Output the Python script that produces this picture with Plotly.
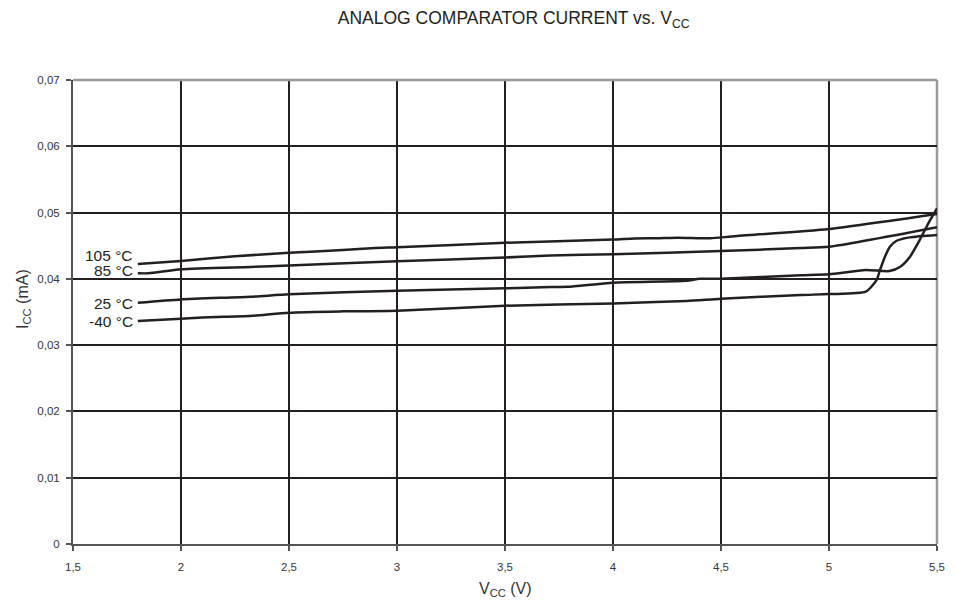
import plotly.graph_objects as go

# --- data ---
x_105 = [1.80, 2.00, 2.25, 2.50, 2.75, 2.90, 3.00, 3.50, 4.00, 4.10, 4.20, 4.30, 4.45, 4.55, 5.00, 5.50]
y_105 = [0.04224, 0.0427, 0.0434, 0.04394, 0.04435, 0.04465, 0.04476, 0.04545, 0.04593, 0.0461, 0.04612, 0.04622, 0.04612, 0.0464, 0.04752, 0.04978]

x_85 = [1.80, 1.85, 2.00, 2.32, 2.50, 3.00, 3.50, 3.71, 4.00, 4.50, 4.87, 5.00, 5.50]
y_85 = [0.04084, 0.04084, 0.04145, 0.0418, 0.04201, 0.04266, 0.04322, 0.04352, 0.04373, 0.04419, 0.04465, 0.04485, 0.04780]

x_25 = [1.80, 2.00, 2.32, 2.50, 3.00, 3.50, 3.71, 3.79, 4.00, 4.34, 4.40, 4.50, 4.87, 5.00, 5.17, 5.28, 5.33, 5.375, 5.42, 5.46, 5.50]
y_25 = [0.0364, 0.0369, 0.0373, 0.03766, 0.03822, 0.03857, 0.03877, 0.0388, 0.03942, 0.0397, 0.0400, 0.04003, 0.04053, 0.0407, 0.04133, 0.04118, 0.04183, 0.04334, 0.04586, 0.04838, 0.05064]

x_m40 = [1.80, 2.00, 2.20, 2.32, 2.50, 2.75, 3.00, 3.50, 4.00, 4.34, 4.50, 4.87, 5.00, 5.17, 5.22, 5.236, 5.259, 5.282, 5.313, 5.375, 5.50]
y_m40 = [0.03364, 0.0340, 0.0343, 0.0344, 0.0349, 0.0351, 0.0352, 0.03595, 0.0363, 0.03666, 0.0370, 0.03756, 0.0377, 0.03806, 0.0398, 0.04133, 0.04334, 0.04485, 0.04575, 0.04626, 0.04661]

series_names = ["105 °C", "85 °C", "25 °C", "-40 °C"]
series_x = [x_105, x_85, x_25, x_m40]
series_y = [y_105, y_85, y_25, y_m40]
label_shift = [9, 3, -1, 0]

x_ticks = [1.5, 2, 2.5, 3, 3.5, 4, 4.5, 5, 5.5]
x_tick_text = ["1,5", "2", "2,5", "3", "3,5", "4", "4,5", "5", "5,5"]
y_ticks = [0, 0.01, 0.02, 0.03, 0.04, 0.05, 0.06, 0.07]
y_tick_text = ["0", "0,01", "0,02", "0,03", "0,04", "0,05", "0,06", "0,07"]

x_title = "V<sub>CC</sub> (V)"
y_title = "I<sub>CC</sub> (mA)"
chart_title = "ANALOG COMPARATOR CURRENT vs. V<sub>CC</sub>"

LINE = "#231f20"
FONT = "Liberation Sans, Arial, sans-serif"

fig = go.Figure()
for name, xs, ys in zip(series_names, series_x, series_y):
    fig.add_trace(go.Scatter(x=xs, y=ys, mode="lines", name=name,
                             line=dict(color=LINE, width=2.5, shape="spline", smoothing=0.6),
                             showlegend=False, hoverinfo="skip"))

for name, xs, ys, sh in zip(series_names, series_x, series_y, label_shift):
    fig.add_annotation(x=xs[0], y=ys[0], xref="x", yref="y", text=name,
                       showarrow=False, xanchor="right", yanchor="middle",
                       xshift=-3, yshift=sh,
                       font=dict(family=FONT, size=15.5, color="#231f20"))

# axis titles as annotations
fig.add_annotation(x=0.5, y=0, xref="paper", yref="paper", text=x_title,
                   showarrow=False, xanchor="center", yanchor="middle", yshift=-45,
                   font=dict(family=FONT, size=16, color="#333333"))
fig.add_annotation(x=0, y=0.528, xref="paper", yref="paper", text=y_title, textangle=-90,
                   showarrow=False, xanchor="center", yanchor="middle", xshift=-50,
                   font=dict(family=FONT, size=16, color="#333333"))

fig.update_layout(
    width=947, height=594,
    margin=dict(l=65, r=18, t=72, b=58),
    paper_bgcolor="white", plot_bgcolor="white",
    font=dict(family=FONT, color="#333333"),
    title=dict(text=chart_title,
               x=0.534, xanchor="center", y=0.983, yanchor="middle",
               font=dict(family=FONT, size=17.5, color="#231f20")),
    xaxis=dict(range=[1.5, 5.5], tickvals=x_ticks, ticktext=x_tick_text,
               automargin=False,
               showgrid=True, gridcolor=LINE, gridwidth=2,
               showline=True, linecolor="#555555", linewidth=2,
               ticks="outside", ticklen=5, tickcolor="#555555", tickwidth=1.5,
               ticklabelstandoff=6,
               zeroline=False, tickfont=dict(size=11.5, color="#333333")),
    yaxis=dict(range=[0, 0.07], tickvals=y_ticks, ticktext=y_tick_text,
               automargin=False,
               showgrid=True, gridcolor=LINE, gridwidth=2,
               showline=True, linecolor="#555555", linewidth=2,
               ticks="outside", ticklen=5, tickcolor="#555555", tickwidth=1.5,
               ticklabelstandoff=4,
               zeroline=False, tickfont=dict(size=11.5, color="#333333")),
)

# grey top and right border
fig.add_shape(type="line", xref="paper", yref="paper", x0=0, x1=1, y0=1, y1=1,
              line=dict(color="#999999", width=2.5), layer="above")
fig.add_shape(type="line", xref="paper", yref="paper", x0=1, x1=1, y0=0, y1=1,
              line=dict(color="#999999", width=2.5), layer="below")

fig.write_html("out.html")
